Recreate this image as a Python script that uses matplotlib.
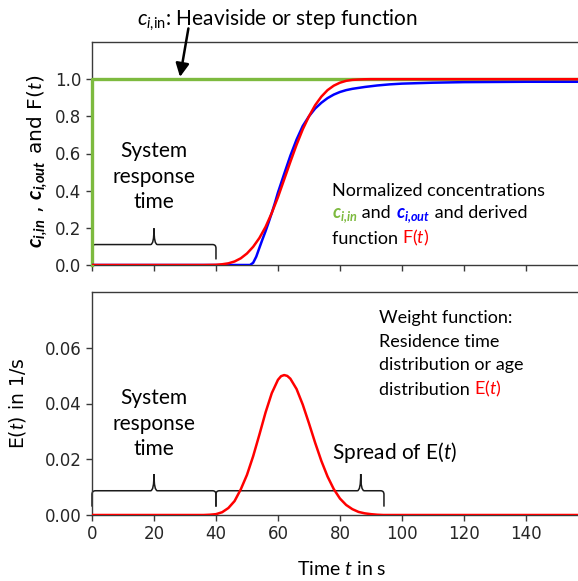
import numpy as np
import matplotlib as mpl
mpl.use('Agg')
import matplotlib.pyplot as plt
from matplotlib.path import Path
from matplotlib.patches import PathPatch
from matplotlib.offsetbox import TextArea, HPacker, AnnotationBbox

plt.rcParams['mathtext.fontset'] = 'custom'
plt.rcParams['mathtext.rm'] = 'Lato'
plt.rcParams['mathtext.it'] = 'Lato:italic'
plt.rcParams['mathtext.bf'] = 'Lato:bold:italic'

# input step c_i,in
t_in = [0, 0, 160]
c_in = [0, 1, 1]

# derived function F(t)
t_F = [0, 36, 40, 42, 44, 46, 48, 50, 52, 54, 56, 58, 60, 62, 64, 66, 68, 70,
       72, 74, 76, 78, 80, 82, 84, 86, 88, 90, 160]
F = [0, 0, 0.001, 0.004, 0.009, 0.019, 0.036, 0.062, 0.098, 0.145, 0.205, 0.280,
     0.365, 0.460, 0.555, 0.647, 0.730, 0.800, 0.860, 0.906, 0.941, 0.965, 0.981,
     0.991, 0.996, 0.998, 0.9995, 1.0, 1.0]

# measured outlet c_i,out
t_out = [0, 51, 52, 53, 54, 55, 56, 57, 58, 59, 60, 62, 64, 66, 68, 70, 72,
         74, 76, 78, 80, 82, 84, 86, 88, 92, 96, 100, 110, 120, 140, 160]
c_out = [0, 0, 0.012, 0.045, 0.092, 0.138, 0.182, 0.23, 0.28, 0.333, 0.39,
         0.49, 0.588, 0.675, 0.748, 0.80, 0.842, 0.873, 0.898, 0.917, 0.931,
         0.941, 0.948, 0.953, 0.958, 0.966, 0.972, 0.976, 0.981, 0.984, 0.986,
         0.986]

# residence time distribution E(t)
t_E = [0, 36, 38, 40, 42, 44, 46, 48, 50, 52, 54, 56, 58, 60, 61, 62, 63, 64, 66,
       68, 70, 72, 74, 76, 78, 80, 82, 84, 86, 88, 90, 92, 94, 160]
E = [0, 0, 0.0001, 0.0003, 0.0010, 0.0025, 0.0050, 0.0092, 0.0144, 0.0211, 0.0288,
     0.0368, 0.0437, 0.0485, 0.0498, 0.0502, 0.0499, 0.0489, 0.0452, 0.0396,
     0.0329, 0.0259, 0.0194, 0.0138, 0.0093, 0.0059, 0.0036, 0.0021, 0.0011,
     0.0006, 0.0003, 0.0001, 0, 0]

# braces: (start, end, tip)
top_braces = [(0, 40, 20)]
bottom_braces = [(0, 40, 20), (40, 94.2, 86.7)]

green = '#7dba3f'
red = '#ff0000'
blue = '#0000ff'
spine_col = '#3a3a3a'


def brace(ax, x0, x1, xm, yb, yend, ytip, rx, ry):
    verts = [(x0, yend), (x0, yb - ry), (x0, yb), (x0 + rx, yb),
             (xm - rx, yb), (xm, yb), (xm, ytip), (xm, yb), (xm + rx, yb),
             (x1 - rx, yb), (x1, yb), (x1, yb - ry), (x1, yend)]
    codes = [Path.MOVETO, Path.LINETO, Path.CURVE3, Path.CURVE3,
             Path.LINETO, Path.CURVE3, Path.CURVE3, Path.CURVE3, Path.CURVE3,
             Path.LINETO, Path.CURVE3, Path.CURVE3, Path.LINETO]
    ax.add_patch(PathPatch(Path(verts, codes), fill=False, lw=1.1,
                           edgecolor='#1a1a1a', clip_on=False))


def colored_line(ax, x, y, parts, size):
    boxes = [TextArea(s, textprops=dict(color=c, size=size, family='Lato'))
             for s, c in parts]
    box = HPacker(children=boxes, align='baseline', pad=0, sep=0)
    ab = AnnotationBbox(box, (x, y), xycoords='data', box_alignment=(0, 0.5),
                        frameon=False, pad=0)
    ax.add_artist(ab)


def style(ax):
    for s in ax.spines.values():
        s.set_color(spine_col)
        s.set_linewidth(1.0)
    ax.spines['right'].set_visible(False)
    ax.tick_params(direction='out', length=4, width=1, color=spine_col,
                   labelsize=12, labelcolor='#262626')
    ax.set_xlim(0, 161)
    ax.set_xticks([0, 20, 40, 60, 80, 100, 120, 140])


fig = plt.figure(figsize=(5.78, 5.81), dpi=100)
ax1 = fig.add_axes([92 / 578, 1 - 265 / 581, 499 / 578, 223 / 581])
ax2 = fig.add_axes([92 / 578, 1 - 515 / 581, 499 / 578, 223 / 581])

# ---- top panel
style(ax1)
ax1.set_ylim(0, 1.2)
ax1.set_yticks([0, 0.2, 0.4, 0.6, 0.8, 1.0])
ax1.set_yticklabels(['0.0', '0.2', '0.4', '0.6', '0.8', '1.0'])
ax1.tick_params(labelbottom=False)
ax1.plot(t_in, c_in, color=green, lw=2.4, clip_on=False, zorder=3)
ax1.plot(t_out, c_out, color=blue, lw=1.8, zorder=4)
ax1.plot(t_F, F, color=red, lw=1.8, zorder=5)

# y label in two pieces (bold symbols are set larger)
lab_x, lab_y = 41.5 / 578, 1 - 160 / 581
fig.text(lab_x, lab_y, r'$\mathbf{c_{i{,}in}}$ , $\mathbf{c_{i{,}out}}$',
         rotation=90, rotation_mode='anchor', ha='right', va='baseline',
         fontsize=15)
fig.text(lab_x, lab_y, r' and F($t$)', rotation=90, rotation_mode='anchor',
         ha='left', va='baseline', fontsize=14.5)

ax1.text(59.7, 1.317, r'$c_{i{,}\mathrm{in}}$: Heaviside or step function',
         ha='center', va='center', fontsize=15, family='Lato', clip_on=False)
ax1.annotate('', xy=(28.4, 1.012), xytext=(31.1, 1.273),
             arrowprops=dict(arrowstyle='-|>', color='black', lw=1.8,
                             mutation_scale=20, shrinkA=0, shrinkB=0),
             annotation_clip=False)
ax1.text(20, 0.475, 'System\nresponse\ntime', ha='center', va='center',
         fontsize=15, family='Lato', linespacing=1.35)
for x0, x1, xm in top_braces:
    brace(ax1, x0, x1, xm, 0.11, 0.03, 0.197, 1.1, 0.02)

colored_line(ax1, 77.3, 0.40, [('Normalized concentrations', 'black')], 13)
colored_line(ax1, 77.3, 0.27, [(r'$\mathbf{c_{i{,}in}}$', green),
                               (' and ', 'black'),
                               (r'$\mathbf{c_{i{,}out}}$', blue),
                               (' and derived', 'black')], 13)
colored_line(ax1, 77.3, 0.144, [('function ', 'black'),
                                (r'F($t$)', red)], 13)

# ---- bottom panel
style(ax2)
ax2.set_ylim(0, 0.08)
ax2.set_yticks([0, 0.02, 0.04, 0.06])
ax2.set_yticklabels(['0.00', '0.02', '0.04', '0.06'])
ax2.plot(t_E, E, color=red, lw=1.8, zorder=4)
ax2.set_ylabel(r'E($t$) in 1/s', fontsize=13.5)
ax2.yaxis.set_label_coords(-0.128, 0.5)
ax2.set_xlabel(r'Time $t$ in s', fontsize=14, family='Lato', labelpad=12)

ax2.text(20, 0.0328, 'System\nresponse\ntime', ha='center', va='center',
         fontsize=15, family='Lato', linespacing=1.35)
ax2.text(97.5, 0.0223, r'Spread of E($t$)', ha='center', va='center',
         fontsize=15, family='Lato')
for x0, x1, xm in bottom_braces:
    brace(ax2, x0, x1, xm, 0.0087, 0.003, 0.0147, 1.1, 0.0013)

colored_line(ax2, 92.5, 0.0708, [('Weight function:', 'black')], 13)
colored_line(ax2, 92.5, 0.0622, [('Residence time', 'black')], 13)
colored_line(ax2, 92.5, 0.0537, [('distribution or age', 'black')], 13)
colored_line(ax2, 92.5, 0.0451, [('distribution ', 'black'),
                                 (r'E($t$)', red)], 13)

fig.savefig('out.png', dpi=100)
